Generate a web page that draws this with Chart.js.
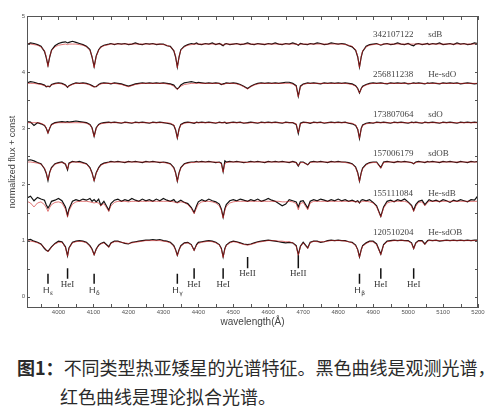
<!DOCTYPE html>
<html>
<head>
<meta charset="utf-8">
<script src="https://cdn.jsdelivr.net/npm/chart.js@4.4.0/dist/chart.umd.min.js"></script>
<style>
  body { margin: 0; background: #fff; width: 500px; height: 413px; position: relative; overflow: hidden; }
  #wrap { position: absolute; left: 0; top: 0; width: 500px; height: 335px; }
  .cap { position: absolute; font-family: "Noto Sans CJK SC", sans-serif; font-size: 18px; color: #2a2a2a; white-space: nowrap; line-height: 24px; }
  .cap b { font-weight: bold; }
</style>
</head>
<body>
<div id="wrap"><canvas id="chart" width="500" height="335"></canvas></div>
<div class="cap" style="left:17px; top:355px;"><b>图1：</b>不同类型热亚矮星的光谱特征。黑色曲线是观测光谱，</div>
<div class="cap" style="left:60px; top:384px;">红色曲线是理论拟合光谱。</div>

<script>
// wavelength grid (Å), shared by every spectrum
const wavelength = [
  3910,3920,3930,3940,3950,3960,3965,3970,3975,3980,
  3990,4000,4010,4020,4026,4030,4040,4050,4060,4070,
  4080,4090,4096,4102,4108,4115,4121,4130,4144,4150,
  4160,4170,4180,4190,4200,4210,4220,4230,4240,4250,
  4260,4270,4280,4290,4300,4310,4320,4330,4335,4340,
  4345,4350,4360,4370,4380,4388,4395,4400,4410,4420,
  4430,4440,4450,4460,4466,4471,4476,4480,4490,4500,
  4510,4520,4530,4541,4550,4560,4570,4580,4590,4600,
  4610,4620,4630,4640,4650,4660,4670,4680,4686,4692,
  4700,4713,4720,4730,4740,4750,4760,4770,4780,4790,
  4800,4810,4820,4830,4840,4850,4856,4861,4866,4870,
  4880,4890,4900,4910,4922,4930,4940,4950,4960,4970,
  4980,4990,5000,5010,5016,5022,5030,5040,5048,5056,
  5060,5070,5080,5090,5100,5110,5120,5130,5140,5150,
  5160,5170,5180,5190,5200
];

// 342107122 sdB
const obs_342107122 = [
  4.49,4.52,4.51,4.49,4.46,4.37,4.26,4.12,4.27,4.39,
  4.47,4.51,4.53,4.54,4.52,4.53,4.55,4.53,4.51,4.49,
  4.46,4.40,4.27,4.10,4.29,4.40,4.45,4.48,4.50,4.51,
  4.49,4.51,4.50,4.51,4.49,4.50,4.52,4.50,4.49,4.51,
  4.50,4.51,4.49,4.50,4.50,4.47,4.46,4.38,4.27,4.09,
  4.27,4.40,4.46,4.49,4.51,4.50,4.52,4.50,4.49,4.51,
  4.50,4.52,4.49,4.51,4.49,4.47,4.50,4.51,4.49,4.50,
  4.51,4.49,4.50,4.52,4.50,4.49,4.51,4.50,4.49,4.51,
  4.50,4.52,4.50,4.49,4.51,4.50,4.52,4.50,4.48,4.51,
  4.50,4.49,4.51,4.50,4.52,4.51,4.49,4.50,4.52,4.51,
  4.50,4.51,4.50,4.47,4.45,4.39,4.27,4.09,4.27,4.37,
  4.46,4.49,4.50,4.51,4.48,4.50,4.51,4.49,4.50,4.52,
  4.50,4.49,4.51,4.48,4.47,4.50,4.51,4.49,4.50,4.51,
  4.49,4.51,4.50,4.52,4.49,4.50,4.51,4.49,4.52,4.50,
  4.51,4.49,4.50,4.52,4.51
];
const fit_342107122 = [
  4.50,4.50,4.49,4.48,4.45,4.38,4.28,4.10,4.28,4.38,
  4.45,4.48,4.49,4.50,4.49,4.50,4.50,4.50,4.49,4.48,
  4.45,4.39,4.28,4.08,4.28,4.39,4.44,4.47,4.49,4.50,
  4.50,4.50,4.50,4.50,4.50,4.50,4.50,4.50,4.50,4.50,
  4.50,4.50,4.50,4.50,4.49,4.48,4.45,4.39,4.28,4.08,
  4.28,4.39,4.45,4.48,4.49,4.50,4.50,4.50,4.50,4.50,
  4.50,4.50,4.50,4.50,4.50,4.48,4.50,4.50,4.50,4.50,
  4.50,4.50,4.50,4.50,4.50,4.50,4.50,4.50,4.50,4.50,
  4.50,4.50,4.50,4.50,4.50,4.50,4.50,4.50,4.49,4.50,
  4.50,4.50,4.50,4.50,4.50,4.50,4.50,4.50,4.50,4.50,
  4.50,4.50,4.49,4.48,4.46,4.40,4.28,4.08,4.28,4.38,
  4.45,4.48,4.49,4.50,4.49,4.50,4.50,4.50,4.50,4.50,
  4.50,4.50,4.50,4.50,4.50,4.50,4.50,4.50,4.50,4.50,
  4.50,4.50,4.50,4.50,4.50,4.50,4.50,4.50,4.50,4.50,
  4.50,4.50,4.50,4.50,4.50
];

// 256811238 He-sdO
const obs_256811238 = [
  3.81,3.83,3.82,3.80,3.79,3.77,3.74,3.75,3.74,3.78,
  3.80,3.81,3.80,3.77,3.73,3.76,3.79,3.81,3.80,3.81,
  3.80,3.78,3.76,3.74,3.74,3.78,3.80,3.81,3.80,3.79,
  3.81,3.80,3.79,3.77,3.75,3.77,3.79,3.80,3.81,3.80,
  3.81,3.80,3.81,3.80,3.81,3.80,3.79,3.77,3.73,3.70,
  3.73,3.77,3.81,3.82,3.83,3.82,3.81,3.82,3.81,3.80,
  3.81,3.80,3.81,3.80,3.78,3.79,3.80,3.81,3.80,3.81,
  3.80,3.78,3.75,3.71,3.75,3.78,3.80,3.81,3.80,3.81,
  3.80,3.81,3.80,3.81,3.82,3.82,3.80,3.76,3.57,3.75,
  3.79,3.81,3.80,3.81,3.80,3.79,3.81,3.80,3.81,3.80,
  3.81,3.80,3.81,3.80,3.79,3.76,3.71,3.63,3.71,3.75,
  3.78,3.80,3.81,3.80,3.81,3.80,3.79,3.81,3.80,3.81,
  3.80,3.81,3.79,3.80,3.81,3.80,3.81,3.80,3.79,3.81,
  3.80,3.81,3.80,3.79,3.81,3.80,3.81,3.80,3.81,3.79,
  3.80,3.81,3.80,3.79,3.80
];
const fit_256811238 = [
  3.80,3.80,3.80,3.79,3.78,3.76,3.75,3.74,3.75,3.77,
  3.79,3.80,3.79,3.76,3.74,3.75,3.78,3.80,3.80,3.80,
  3.79,3.77,3.75,3.73,3.75,3.77,3.79,3.80,3.80,3.80,
  3.80,3.79,3.78,3.76,3.74,3.76,3.78,3.79,3.80,3.80,
  3.80,3.80,3.80,3.80,3.80,3.79,3.78,3.75,3.72,3.69,
  3.72,3.75,3.78,3.79,3.80,3.80,3.80,3.80,3.80,3.80,
  3.80,3.80,3.80,3.80,3.79,3.78,3.79,3.80,3.80,3.80,
  3.79,3.77,3.74,3.70,3.74,3.77,3.79,3.80,3.80,3.80,
  3.80,3.80,3.80,3.80,3.80,3.80,3.79,3.75,3.56,3.74,
  3.78,3.80,3.80,3.80,3.80,3.80,3.80,3.80,3.80,3.80,
  3.80,3.80,3.80,3.79,3.78,3.75,3.70,3.63,3.70,3.74,
  3.77,3.79,3.80,3.80,3.80,3.80,3.80,3.80,3.80,3.80,
  3.80,3.80,3.80,3.80,3.80,3.80,3.80,3.80,3.80,3.80,
  3.80,3.80,3.80,3.80,3.80,3.80,3.80,3.80,3.80,3.80,
  3.80,3.80,3.80,3.80,3.80
];

// 173807064 sdO
const obs_173807064 = [
  3.12,3.11,3.05,3.10,3.08,3.05,3.00,2.92,3.00,3.07,
  3.10,3.11,3.12,3.11,3.12,3.11,3.12,3.13,3.12,3.11,
  3.10,3.07,3.01,2.86,3.01,3.07,3.09,3.10,3.11,3.10,
  3.11,3.10,3.09,3.11,3.10,3.09,3.11,3.10,3.11,3.10,
  3.09,3.11,3.10,3.11,3.10,3.09,3.08,3.05,2.97,2.83,
  2.99,3.07,3.10,3.11,3.10,3.09,3.11,3.10,3.11,3.10,
  3.11,3.10,3.09,3.11,3.10,3.10,3.11,3.09,3.10,3.11,
  3.10,3.11,3.09,3.10,3.11,3.10,3.09,3.11,3.10,3.11,
  3.10,3.11,3.10,3.09,3.11,3.10,3.10,3.07,2.91,3.09,
  3.11,3.10,3.09,3.11,3.10,3.11,3.09,3.10,3.11,3.10,
  3.11,3.10,3.11,3.09,3.08,3.05,2.98,2.82,3.00,3.06,
  3.09,3.10,3.09,3.11,3.10,3.11,3.10,3.09,3.11,3.10,
  3.11,3.10,3.09,3.11,3.10,3.11,3.10,3.09,3.11,3.10,
  3.10,3.11,3.10,3.09,3.11,3.10,3.11,3.10,3.09,3.11,
  3.10,3.11,3.10,3.11,3.10
];
const fit_173807064 = [
  3.10,3.10,3.10,3.10,3.09,3.06,3.01,2.91,3.01,3.06,
  3.09,3.10,3.10,3.10,3.10,3.10,3.10,3.10,3.10,3.10,
  3.09,3.06,3.00,2.85,3.00,3.06,3.08,3.09,3.10,3.10,
  3.10,3.10,3.10,3.10,3.10,3.10,3.10,3.10,3.10,3.10,
  3.10,3.10,3.10,3.10,3.10,3.10,3.09,3.06,2.98,2.82,
  2.98,3.06,3.09,3.10,3.10,3.10,3.10,3.10,3.10,3.10,
  3.10,3.10,3.10,3.10,3.10,3.10,3.10,3.10,3.10,3.10,
  3.10,3.10,3.10,3.09,3.10,3.10,3.10,3.10,3.10,3.10,
  3.10,3.10,3.10,3.10,3.10,3.10,3.10,3.08,2.92,3.08,
  3.10,3.10,3.10,3.10,3.10,3.10,3.10,3.10,3.10,3.10,
  3.10,3.10,3.10,3.10,3.09,3.06,2.99,2.82,2.99,3.05,
  3.08,3.09,3.10,3.10,3.10,3.10,3.10,3.10,3.10,3.10,
  3.10,3.10,3.10,3.10,3.10,3.10,3.10,3.10,3.10,3.10,
  3.10,3.10,3.10,3.10,3.10,3.10,3.10,3.10,3.10,3.10,
  3.10,3.10,3.10,3.10,3.10
];

// 157006179 sdOB
const obs_157006179 = [
  2.43,2.44,2.42,2.39,2.37,2.28,2.20,2.07,2.22,2.30,
  2.37,2.39,2.40,2.36,2.26,2.38,2.41,2.40,2.41,2.39,
  2.37,2.30,2.21,2.07,2.21,2.30,2.35,2.38,2.40,2.41,
  2.40,2.41,2.40,2.39,2.41,2.40,2.41,2.40,2.39,2.41,
  2.40,2.41,2.40,2.39,2.40,2.39,2.37,2.30,2.21,2.06,
  2.21,2.30,2.37,2.39,2.40,2.40,2.41,2.40,2.41,2.40,
  2.41,2.40,2.39,2.40,2.38,2.23,2.42,2.40,2.41,2.40,
  2.41,2.40,2.39,2.40,2.41,2.40,2.41,2.40,2.39,2.41,
  2.40,2.41,2.40,2.41,2.40,2.39,2.41,2.39,2.33,2.40,
  2.40,2.35,2.40,2.41,2.40,2.41,2.40,2.39,2.41,2.40,
  2.41,2.40,2.40,2.39,2.37,2.31,2.21,2.06,2.21,2.29,
  2.36,2.39,2.40,2.40,2.30,2.40,2.41,2.40,2.39,2.41,
  2.40,2.41,2.40,2.39,2.37,2.40,2.41,2.40,2.39,2.41,
  2.40,2.41,2.40,2.39,2.41,2.40,2.41,2.40,2.39,2.41,
  2.40,2.39,2.41,2.40,2.41
];
const fit_157006179 = [
  2.40,2.40,2.39,2.38,2.36,2.29,2.21,2.08,2.21,2.29,
  2.36,2.38,2.39,2.37,2.27,2.37,2.40,2.40,2.39,2.38,
  2.36,2.29,2.20,2.06,2.20,2.29,2.34,2.37,2.39,2.40,
  2.40,2.40,2.40,2.40,2.40,2.40,2.40,2.40,2.40,2.40,
  2.40,2.40,2.40,2.40,2.39,2.38,2.36,2.29,2.20,2.05,
  2.20,2.29,2.36,2.38,2.39,2.39,2.40,2.40,2.40,2.40,
  2.40,2.40,2.40,2.39,2.37,2.22,2.37,2.39,2.40,2.40,
  2.40,2.40,2.40,2.39,2.40,2.40,2.40,2.40,2.40,2.40,
  2.40,2.40,2.40,2.40,2.40,2.40,2.40,2.39,2.33,2.39,
  2.39,2.35,2.39,2.40,2.40,2.40,2.40,2.40,2.40,2.40,
  2.40,2.40,2.39,2.38,2.36,2.30,2.20,2.05,2.20,2.28,
  2.35,2.38,2.39,2.39,2.29,2.39,2.40,2.40,2.40,2.40,
  2.40,2.40,2.40,2.39,2.37,2.39,2.40,2.40,2.40,2.40,
  2.40,2.40,2.40,2.40,2.40,2.40,2.40,2.40,2.40,2.40,
  2.40,2.40,2.40,2.40,2.40
];

// 155111084 He-sdB
const obs_155111084 = [
  1.76,1.79,1.71,1.77,1.74,1.72,1.64,1.58,1.63,1.70,
  1.72,1.75,1.71,1.60,1.45,1.56,1.70,1.73,1.71,1.74,
  1.72,1.75,1.70,1.73,1.69,1.74,1.63,1.70,1.54,1.66,
  1.72,1.74,1.70,1.73,1.71,1.75,1.72,1.70,1.74,1.71,
  1.73,1.70,1.74,1.71,1.75,1.72,1.70,1.73,1.69,1.68,
  1.70,1.72,1.68,1.66,1.59,1.50,1.62,1.69,1.73,1.70,
  1.74,1.71,1.69,1.65,1.56,1.42,1.57,1.64,1.71,1.73,
  1.71,1.74,1.72,1.70,1.73,1.71,1.74,1.70,1.72,1.75,
  1.72,1.70,1.66,1.62,1.65,1.73,1.71,1.69,1.60,1.70,
  1.71,1.58,1.70,1.73,1.71,1.74,1.72,1.70,1.73,1.71,
  1.74,1.71,1.73,1.70,1.72,1.69,1.71,1.67,1.72,1.73,
  1.71,1.73,1.68,1.62,1.43,1.60,1.70,1.72,1.69,1.73,
  1.71,1.74,1.69,1.63,1.54,1.64,1.70,1.72,1.64,1.70,
  1.73,1.70,1.72,1.69,1.73,1.71,1.68,1.72,1.70,1.73,
  1.71,1.69,1.73,1.72,1.80
];
const fit_155111084 = [
  1.70,1.67,1.60,1.67,1.69,1.64,1.59,1.52,1.59,1.64,
  1.68,1.69,1.67,1.56,1.42,1.53,1.65,1.69,1.70,1.70,
  1.70,1.69,1.68,1.67,1.68,1.67,1.62,1.66,1.52,1.62,
  1.68,1.70,1.70,1.70,1.69,1.70,1.70,1.70,1.70,1.70,
  1.70,1.70,1.70,1.70,1.70,1.70,1.70,1.69,1.68,1.67,
  1.68,1.69,1.68,1.64,1.57,1.48,1.58,1.65,1.69,1.70,
  1.70,1.69,1.67,1.62,1.54,1.40,1.54,1.61,1.67,1.69,
  1.70,1.70,1.70,1.70,1.70,1.70,1.70,1.70,1.70,1.70,
  1.70,1.70,1.70,1.69,1.69,1.70,1.69,1.66,1.55,1.66,
  1.68,1.55,1.67,1.70,1.70,1.70,1.70,1.70,1.70,1.70,
  1.70,1.70,1.70,1.70,1.70,1.69,1.69,1.68,1.69,1.70,
  1.70,1.69,1.67,1.60,1.42,1.58,1.67,1.69,1.70,1.70,
  1.70,1.70,1.68,1.61,1.52,1.61,1.68,1.69,1.62,1.68,
  1.70,1.70,1.70,1.70,1.70,1.70,1.70,1.70,1.70,1.70,
  1.70,1.70,1.70,1.70,1.70
];

// 120510204 He-sdOB
const obs_120510204 = [
  1.01,1.02,0.99,0.97,0.94,0.86,0.83,0.81,0.85,0.89,
  0.95,0.99,0.98,0.89,0.73,0.87,0.97,0.99,1.00,0.99,
  0.97,0.91,0.85,0.75,0.85,0.92,0.95,0.97,0.89,0.96,
  0.99,0.99,0.97,0.95,0.94,0.97,0.98,0.99,1.00,1.01,
  1.01,1.02,1.01,1.02,1.00,0.99,0.97,0.91,0.84,0.74,
  0.84,0.91,0.96,0.97,0.93,0.83,0.93,0.97,0.98,0.99,
  1.00,0.99,0.97,0.93,0.86,0.71,0.86,0.92,0.97,0.99,
  0.98,0.96,0.94,0.93,0.94,0.96,0.98,0.99,1.00,1.01,
  1.00,0.99,0.98,0.97,0.96,0.97,0.96,0.91,0.75,0.90,
  0.97,0.87,0.97,0.99,0.99,0.97,0.98,1.00,1.01,1.00,
  1.01,1.00,1.00,0.98,0.97,0.92,0.84,0.71,0.84,0.91,
  0.96,0.99,0.99,0.94,0.76,0.93,0.99,1.00,1.01,1.00,
  1.01,1.00,1.00,0.96,0.86,0.96,1.00,1.00,0.94,1.00,
  1.01,1.00,1.01,0.99,1.00,1.01,1.00,1.01,1.00,1.01,
  1.00,1.01,1.00,1.01,1.01
];
const fit_120510204 = [
  1.00,0.99,0.98,0.96,0.93,0.87,0.84,0.80,0.84,0.88,
  0.94,0.97,0.97,0.88,0.72,0.86,0.96,0.98,0.99,0.98,
  0.96,0.90,0.84,0.74,0.84,0.91,0.94,0.96,0.88,0.95,
  0.98,0.98,0.97,0.96,0.95,0.96,0.97,0.98,0.99,1.00,
  1.00,1.00,1.00,1.00,0.99,0.98,0.96,0.90,0.83,0.73,
  0.83,0.90,0.95,0.96,0.92,0.82,0.92,0.95,0.97,0.98,
  0.99,0.98,0.96,0.92,0.85,0.70,0.85,0.91,0.96,0.98,
  0.97,0.95,0.93,0.92,0.93,0.95,0.97,0.98,0.99,1.00,
  1.00,1.00,0.99,0.99,0.98,0.98,0.96,0.90,0.74,0.89,
  0.96,0.86,0.96,0.99,0.98,0.98,0.98,0.99,1.00,1.00,
  1.00,1.00,0.99,0.98,0.96,0.91,0.83,0.70,0.83,0.90,
  0.95,0.98,0.98,0.93,0.75,0.92,0.98,0.99,1.00,1.00,
  1.00,1.00,0.99,0.95,0.85,0.95,0.99,0.99,0.93,0.99,
  1.00,1.00,1.00,1.00,1.00,1.00,1.00,1.00,1.00,1.00,
  1.00,1.00,1.00,1.00,1.00
];

const starIds   = ['342107122', '256811238', '173807064', '157006179', '155111084', '120510204'];
const starTypes = ['sdB', 'He-sdO', 'sdO', 'sdOB', 'He-sdB', 'He-sdOB'];
const starLabelY = [4.66, 3.95, 3.25, 2.55, 1.84, 1.15];
const observed = [obs_342107122, obs_256811238, obs_173807064, obs_157006179, obs_155111084, obs_120510204];
const fitted   = [fit_342107122, fit_256811238, fit_173807064, fit_157006179, fit_155111084, fit_120510204];

// line identifications at the bottom
const lineNames  = ['H', 'HeI', 'H', 'H', 'HeI', 'HeI', 'HeII', 'HeII', 'H', 'HeI', 'HeI'];
const lineSubs   = ['ε', '', 'δ', 'γ', '', '', '', '', 'β', '', ''];
const lineWave   = [3970, 4026, 4102, 4340, 4388, 4471, 4541, 4686, 4861, 4922, 5016];
const lineTop    = [0.41, 0.51, 0.41, 0.41, 0.51, 0.51, 0.71, 0.74, 0.41, 0.51, 0.51];
const lineBottom = [0.23, 0.32, 0.23, 0.23, 0.32, 0.32, 0.51, 0.51, 0.23, 0.32, 0.32];
const lineLabelY = [0.11, 0.22, 0.11, 0.11, 0.22, 0.22, 0.41, 0.41, 0.11, 0.22, 0.22];

const toPoints = fluxes => wavelength.map((w, i) => ({ x: w, y: fluxes[i] }));

const markerPoints = [];
lineWave.forEach((w, i) => {
  markerPoints.push({ x: w, y: lineTop[i] }, { x: w, y: lineBottom[i] }, { x: w, y: null });
});

// chart.js paints the first dataset on top, so the red fits go first
const datasets = [];
fitted.forEach(f => datasets.push({ data: toPoints(f), borderColor: 'rgba(205,30,30,0.6)', borderWidth: 1 }));
observed.forEach(o => datasets.push({ data: toPoints(o), borderColor: '#111', borderWidth: 1.2 }));
datasets.push({ data: markerPoints, borderColor: '#111', borderWidth: 1.5, spanGaps: false });

const framePlugin = {
  id: 'frame',
  afterDatasetsDraw(chart) {
    const { ctx, chartArea: a, scales: { x, y } } = chart;
    ctx.save();
    ctx.strokeStyle = '#555';
    ctx.lineWidth = 1;
    ctx.strokeRect(a.left + 0.5, a.top + 0.5, a.right - a.left - 1, a.bottom - a.top - 1);
    ctx.beginPath();
    x.ticks.forEach(t => {
      if (t.value % 50) return;
      const px = Math.round(x.getPixelForValue(t.value)) + 0.5;
      ctx.moveTo(px, a.bottom); ctx.lineTo(px, a.bottom - 4);
      ctx.moveTo(px, a.top); ctx.lineTo(px, a.top + 4);
    });
    y.ticks.forEach(t => {
      const py = Math.round(y.getPixelForValue(t.value)) + 0.5;
      ctx.moveTo(a.left, py); ctx.lineTo(a.left + 3, py);
      ctx.moveTo(a.right, py); ctx.lineTo(a.right - 3, py);
    });
    ctx.stroke();

    // star names
    ctx.fillStyle = '#444';
    ctx.textBaseline = 'middle';
    ctx.textAlign = 'left';
    ctx.font = '9px "Liberation Serif"';
    starIds.forEach((id, i) => {
      const py = y.getPixelForValue(starLabelY[i]);
      ctx.fillText(id, x.getPixelForValue(4900), py);
      ctx.fillText(starTypes[i], x.getPixelForValue(5058), py);
    });

    // line ids
    ctx.fillStyle = '#333';
    lineNames.forEach((name, i) => {
      const cx = x.getPixelForValue(lineWave[i]);
      const cy = y.getPixelForValue(lineLabelY[i]);
      if (lineSubs[i]) {
        ctx.font = '9px "Liberation Sans"';
        const w1 = ctx.measureText(name).width;
        ctx.font = '6px "DejaVu Sans"';
        const w2 = ctx.measureText(lineSubs[i]).width;
        const left = cx - (w1 + w2) / 2;
        ctx.textAlign = 'left';
        ctx.font = '9px "Liberation Sans"';
        ctx.fillText(name, left, cy);
        ctx.font = '6px "DejaVu Sans"';
        ctx.fillText(lineSubs[i], left + w1 + 0.5, cy + 2.5);
      } else {
        ctx.textAlign = 'center';
        ctx.font = '9px "Liberation Serif"';
        ctx.fillText(name, cx, cy);
      }
    });
    ctx.restore();
  }
};

new Chart(document.getElementById('chart'), {
  type: 'line',
  data: { datasets },
  plugins: [framePlugin],
  options: {
    responsive: false,
    animation: false,
    devicePixelRatio: 1,
    layout: { padding: { top: 16, right: 22, left: 0, bottom: 0 } },
    elements: { point: { radius: 0 }, line: { tension: 0 } },
    plugins: { legend: { display: false }, tooltip: { enabled: false } },
    scales: {
      x: {
        type: 'linear',
        min: 3910,
        max: 5200,
        grid: { display: false, drawTicks: false },
        border: { display: false },
        afterFit: s => { s.height = 27; },
        ticks: {
          stepSize: 50,
          includeBounds: false,
          autoSkip: false,
          maxRotation: 0,
          padding: 1,
          color: '#555',
          font: { family: 'Liberation Sans', size: 6 },
          callback: v => (v % 100 === 0 ? v : '')
        },
        title: {
          display: true,
          text: 'wavelength(Å)',
          color: '#444',
          font: { family: 'Liberation Sans', size: 10 },
          padding: { top: 0, bottom: 7 }
        }
      },
      y: {
        min: -0.2,
        max: 5,
        grid: { display: false, drawTicks: false },
        border: { display: false },
        afterFit: s => { s.width = 27; },
        ticks: {
          stepSize: 0.5,
          includeBounds: false,
          padding: 2,
          color: '#555',
          font: { family: 'Liberation Sans', size: 6 },
          callback: v => (Number.isInteger(v) ? v : '')
        },
        title: {
          display: true,
          text: 'normalized flux + const',
          color: '#444',
          font: { family: 'Liberation Sans', size: 9 },
          padding: { top: 7.5, bottom: 0 }
        }
      }
    }
  }
});
</script>
</body>
</html>
